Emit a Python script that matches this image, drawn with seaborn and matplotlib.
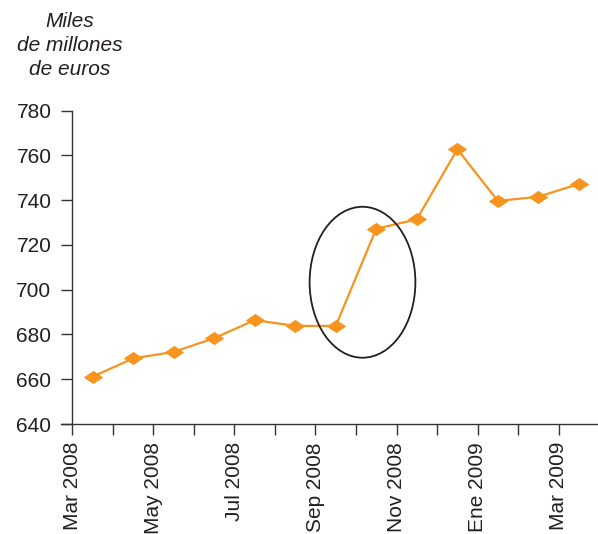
import numpy as np
import pandas as pd
import seaborn as sns
import matplotlib
matplotlib.use("Agg")
import matplotlib.pyplot as plt
from matplotlib.patches import Ellipse

# Data
months = ["Mar 2008", "Abr 2008", "May 2008", "Jun 2008", "Jul 2008", "Ago 2008",
          "Sep 2008", "Oct 2008", "Nov 2008", "Dic 2008", "Ene 2009", "Feb 2009", "Mar 2009"]
values = [661.1, 669.3, 672.2, 678.3, 686.4, 683.8, 683.8, 727.2, 731.4, 762.7, 739.6, 741.5, 747.2]
tick_labels = ["Mar 2008", "May 2008", "Jul 2008", "Sep 2008", "Nov 2008", "Ene 2009", "Mar 2009"]
yticks = [640, 660, 680, 700, 720, 740, 760, 780]
title_lines = ["Miles", "de millones", "de euros"]

sns.set_style("white")
plt.rcParams['font.family'] = ['Liberation Sans', 'DejaVu Sans']

W, H = 598, 534
fig = plt.figure(figsize=(W / 100, H / 100), dpi=100)
ax = fig.add_axes([61 / W, (H - 424) / H, (W - 61) / W, (424 - 110.5) / H])

df = pd.DataFrame({"pos": np.arange(len(months)) + 0.5, "value": values, "month": months})
orange = "#F7941D"
diamond = [(-1, 0), (0, 0.68), (1, 0), (0, -0.68), (-1, 0)]
sns.lineplot(data=df, x="pos", y="value", ax=ax, color=orange, linewidth=1.6,
             marker=diamond, markersize=14, markeredgewidth=0, markerfacecolor=orange)

unit = 40.53
ax.set_xlim(-11.3 / unit, -11.3 / unit + (W - 61) / unit)
ax.set_ylim(640, 780)

ax.spines['left'].set_position(('data', 0))
for s in ['top', 'right']:
    ax.spines[s].set_visible(False)
for s in ['left', 'bottom']:
    ax.spines[s].set_color('#333333')
    ax.spines[s].set_linewidth(1.0)

xt_labels = []
for i in range(len(months)):
    xt_labels.append(tick_labels[i // 2] if i % 2 == 0 else "")
ax.set_xticks(np.arange(len(months)))
ax.set_xticklabels(xt_labels, rotation=90, fontsize=15, color='#231f20')
ax.set_yticks(yticks)
ax.set_yticklabels([str(v) for v in yticks], fontsize=15, color='#231f20')
ax.tick_params(axis='both', direction='out', length=8, width=1.0, color='#333333',
               bottom=True, left=True)
ax.tick_params(axis='x', pad=5)
ax.tick_params(axis='y', pad=7)
ax.set_xlabel("")
ax.set_ylabel("")

ell = Ellipse((7.16, 703.3), width=2.61, height=67.4, fill=False, edgecolor='#231f20',
              linewidth=1.3, zorder=5)
ax.add_patch(ell)

for i, line in enumerate(title_lines):
    fig.text(70 / W, 1 - (27 + 24 * i) / H, line, ha='center', va='baseline',
             fontsize=15, style='italic', color='#231f20')

fig.savefig("out.png", dpi=100)
